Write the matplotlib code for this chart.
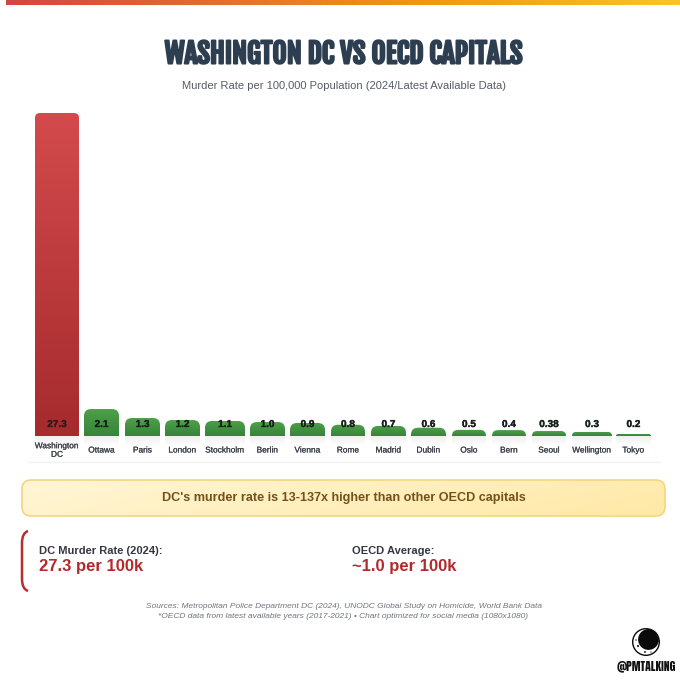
import numpy as np
import matplotlib
matplotlib.use("Agg")
import matplotlib.pyplot as plt
import matplotlib.patheffects as pe
from matplotlib.colors import LinearSegmentedColormap
from matplotlib.patches import FancyBboxPatch, PathPatch, Circle
from matplotlib.path import Path

plt.rcParams["font.family"] = ["Liberation Sans", "DejaVu Sans"]

cities = ["Washington\nDC", "Ottawa", "Paris", "London", "Stockholm", "Berlin", "Vienna", "Rome",
          "Madrid", "Dublin", "Oslo", "Bern", "Seoul", "Wellington", "Tokyo"]
rate_labels = ["27.3", "2.1", "1.3", "1.2", "1.1", "1.0", "0.9", "0.8",
               "0.7", "0.6", "0.5", "0.4", "0.38", "0.3", "0.2"]
# bar heights as drawn in the picture, in rate units (small bars are drawn a bit taller than true scale)
bar_heights = [27.3, 2.28, 1.52, 1.35, 1.27, 1.18, 1.10, 0.95,
               0.85, 0.70, 0.52, 0.50, 0.42, 0.34, 0.17]

# left/right edges of the bars in pixels
bar_left = [35, 84, 125, 165, 205, 250, 290, 331, 371, 411, 452, 492, 532, 572, 616]
bar_right = [79, 119, 160, 200, 245, 285, 325, 365, 406, 446, 486, 526, 566, 612, 651]

BASE_Y = 436
TOP_Y = 113
PX_PER_UNIT = (BASE_Y - TOP_Y) / 27.3
IMPACT = ["Fjalla One", "Anton", "Liberation Sans"]


def vgrad(c_top, c_bot):
    return LinearSegmentedColormap.from_list("g", [c_top, c_bot])


def top_rounded(x0, x1, h, r_px):
    # bar outline with rounded top corners, x in px and h in rate units
    h_px = h * PX_PER_UNIT
    r = min(r_px, h_px)
    ry = r / PX_PER_UNIT
    verts = [(x0, 0), (x0, h - ry), (x0, h), (x0 + r, h), (x1 - r, h), (x1, h), (x1, h - ry), (x1, 0), (x0, 0)]
    codes = [Path.MOVETO, Path.LINETO, Path.CURVE3, Path.CURVE3, Path.LINETO,
             Path.CURVE3, Path.CURVE3, Path.LINETO, Path.CLOSEPOLY]
    return Path(verts, codes)


fig = plt.figure(figsize=(6.8, 6.8), dpi=100, facecolor="white")

# page layer in pixel coordinates
bg = fig.add_axes([0, 0, 1, 1])
bg.set_xlim(0, 680)
bg.set_ylim(680, 0)
bg.axis("off")

# top stripe
stripe = LinearSegmentedColormap.from_list("s", ["#d24545", "#e8702a", "#f39c12", "#f8c525"])
bg.imshow(np.linspace(0, 1, 300).reshape(1, -1), cmap=stripe, extent=[6, 680, 5, 0], aspect="auto", zorder=1)

# title and subtitle
bg.text(343.5, 54, "WASHINGTON DC VS OECD CAPITALS", ha="center", va="center",
        fontsize=19.8, family=IMPACT, color="#2c3e50",
        path_effects=[pe.withStroke(linewidth=1.5, foreground="#2c3e50")], zorder=3)
bg.text(343.5, 86, "Murder Rate per 100,000 Population (2024/Latest Available Data)", ha="center", va="center",
        fontsize=8.0, color="#555c66", zorder=3)

# soft shadow below bars and faint separator
for x0, x1 in zip(bar_left, bar_right):
    shade = np.ones((20, 1, 4))
    shade[:, :, :3] = 0.55
    shade[:, :, 3] = np.linspace(0.14, 0, 20).reshape(-1, 1)
    bg.imshow(shade, extent=[x0, x1, 446, 436], aspect="auto", zorder=1)
bg.plot([28, 660], [462, 462], color="#f2f2f2", lw=1, zorder=1)

# callout box
box = FancyBboxPatch((22, 480), 643, 36, boxstyle="round,pad=0,rounding_size=9",
                     facecolor="none", edgecolor="#f2d77e", lw=1.2, zorder=3)
bg.add_patch(box)
fill = LinearSegmentedColormap.from_list("y", ["#fff6d6", "#ffe9a6"])
xx, yy = np.meshgrid(np.linspace(0, 1, 200), np.linspace(0, 1, 40))
im = bg.imshow((xx * 0.8 + yy * 0.2), cmap=fill, extent=[22, 665, 516, 480], aspect="auto", zorder=2)
im.set_clip_path(FancyBboxPatch((22, 480), 643, 36, boxstyle="round,pad=0,rounding_size=9", transform=bg.transData))
bg.text(343.5, 498, "DC's murder rate is 13-137x higher than other OECD capitals", ha="center", va="center",
        fontsize=9.05, fontweight="bold", color="#755018", zorder=4)

# stat cards
card_edge = Path([(28, 531), (22, 533), (22, 543), (22, 579), (22, 589), (28, 591)],
                 [Path.MOVETO, Path.CURVE3, Path.CURVE3, Path.LINETO, Path.CURVE3, Path.CURVE3])
bg.add_patch(PathPatch(card_edge, facecolor="none", edgecolor="#b92c2f", lw=1.8, zorder=3))
bg.text(39, 551, "DC Murder Rate (2024):", ha="left", va="center", fontsize=8.0, fontweight="bold", color="#33373f", zorder=3)
bg.text(39, 567, "27.3 per 100k", ha="left", va="center", fontsize=12.0, fontweight="bold", color="#b5282c", zorder=3)
bg.text(352, 551, "OECD Average:", ha="left", va="center", fontsize=8.0, fontweight="bold", color="#33373f", zorder=3)
bg.text(352, 567, "~1.0 per 100k", ha="left", va="center", fontsize=12.0, fontweight="bold", color="#b5282c", zorder=3)

# sources
bg.text(343.5, 606, "Sources: Metropolitan Police Department DC (2024), UNODC Global Study on Homicide, World Bank Data",
        ha="center", va="center", fontsize=6.05, style="italic", color="#70757d", zorder=3)
bg.text(343.5, 616, "*OECD data from latest available years (2017-2021) \u2022 Chart optimized for social media (1080x1080)",
        ha="center", va="center", fontsize=6.05, style="italic", color="#70757d", zorder=3)

# logo
bg.add_patch(Circle((646, 642), 14, facecolor="#0b0b0b", edgecolor="none", zorder=3))
bg.add_patch(Circle((646, 642), 12.6, facecolor="white", edgecolor="none", zorder=4))
bg.add_patch(Circle((648.5, 639.5), 10.4, facecolor="#0b0b0b", edgecolor="none", zorder=5))
for cx, cy, cr in [(638, 646, 1.0), (645, 652, 0.9), (636, 640, 0.7), (651, 652, 0.6)]:
    bg.add_patch(Circle((cx, cy), cr, facecolor="#0b0b0b", edgecolor="none", zorder=6))
bg.text(646.5, 666, "@PMTALKING", ha="center", va="center", fontsize=8.4,
        family=["Anton", "Liberation Sans"], color="#111111", zorder=6)

# chart layer: x in pixels, y in rate units
ax = fig.add_axes([0, (680 - BASE_Y) / 680, 1, (BASE_Y - TOP_Y) / 680])
ax.patch.set_alpha(0)
red = vgrad("#d34a4c", "#a62b2d")
green = vgrad("#4fa049", "#35843a")
for i, (x0, x1, h) in enumerate(zip(bar_left, bar_right, bar_heights)):
    path = top_rounded(x0, x1, h, 5 if i == 0 else 7)
    patch = PathPatch(path, facecolor="none", edgecolor="none", transform=ax.transData)
    ax.add_patch(patch)
    im = ax.imshow(np.linspace(0, 1, 64).reshape(-1, 1), cmap=red if i == 0 else green,
                   extent=[x0, x1, 0, h], aspect="auto", zorder=2)
    im.set_clip_path(patch)

ax.set_xlim(0, 680)
ax.set_ylim(0, 27.3)
ax.set_yticks([])
centers = [(a + b) / 2 for a, b in zip(bar_left, bar_right)]
ax.set_xticks(centers)
ax.set_xticklabels(cities, fontsize=6, color="#3c4048", linespacing=1.3)
ax.tick_params(axis="x", length=0, pad=10.8)
for lab in ax.get_xticklabels():
    lab.set_verticalalignment("center")
    lab.set_path_effects([pe.withStroke(linewidth=0.12, foreground="#3c4048")])
for s in ax.spines.values():
    s.set_visible(False)

# value labels sit at a fixed height above the base
for i, (c, lab) in enumerate(zip(centers, rate_labels)):
    ax.annotate(lab, (c, 0), xytext=(0, 12 * 0.72), textcoords="offset points", ha="center", va="center",
                fontsize=7.2, fontweight="bold", color="#3a1414" if i == 0 else "#14201a", zorder=4,
                path_effects=[pe.withStroke(linewidth=0.3, foreground="#333333")])

fig.savefig("out.png", dpi=100)
